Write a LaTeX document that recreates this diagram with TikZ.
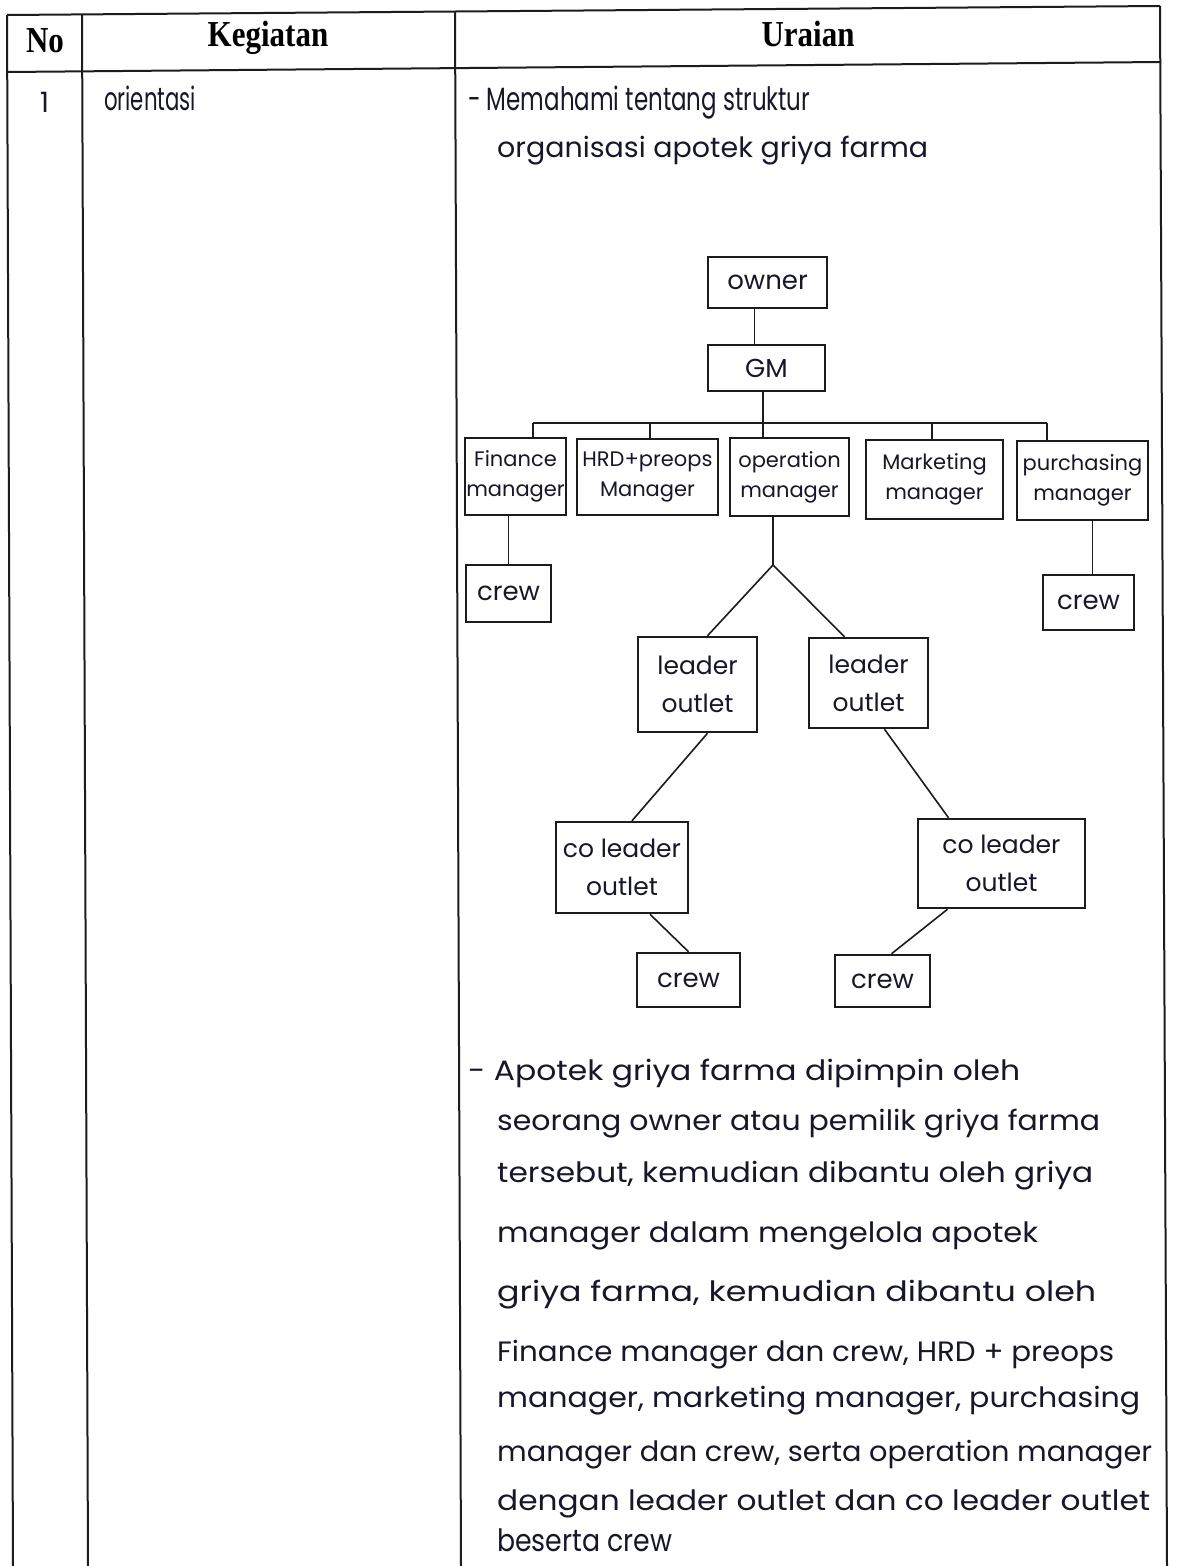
\documentclass[tikz,border=0pt]{standalone}
\usepackage{fontspec}
\setmainfont{Liberation Serif}
\newfontfamily\hand{Poppins}
\usetikzlibrary{calc}
\definecolor{ink}{HTML}{17172A}
\definecolor{rulec}{HTML}{1C1C1C}
\newcommand\fitw[2]{\resizebox{#1pt}{\height}{#2}}
\newcommand\fitwy[3]{\scalebox{1}[#2]{\resizebox{#1pt}{\height}{#3}}}
\newcommand\tallhd[1]{\scalebox{1}[1.18]{#1}}
\begin{document}
\begin{tikzpicture}[x=1pt,y=-1pt,
  box/.style={draw=rulec, line width=2.5pt, rectangle, inner sep=0pt, align=center,
    text=ink, font=\hand\fontsize{21}{30}\selectfont},
  bigbox/.style={box, font=\hand\fontsize{26}{30}\selectfont},
  lbox/.style={box, font=\hand\fontsize{25}{38}\selectfont},
  conn/.style={draw=rulec, line width=1.6pt},
  gridline/.style={draw=rulec, line width=2pt},
  hd/.style={font=\bfseries\fontsize{31}{34}\selectfont, text=black, inner sep=0pt},
  hw/.style={font=\hand\fontsize{28}{30}\selectfont, text=ink, anchor=base west, inner sep=0pt},
]
\useasboundingbox (0,0) rectangle (1176,1566);
\fill[white] (0,0) rectangle (1176,1566);

% table grid
\coordinate (tl) at (7,15);
\coordinate (tr) at (1160,6);
\coordinate (hl) at (7,72);
\coordinate (hr) at (1161,62);
\coordinate (bl) at (13,1566);
\coordinate (br) at (1167,1566);
\coordinate (c1t) at (82,14);
\coordinate (c1b) at (88,1566);
\coordinate (c2t) at (455,11);
\coordinate (c2b) at (461,1566);
\draw[gridline] (tl) -- (tr);
\draw[gridline] (hl) -- (hr);
\draw[gridline] (tl) -- (bl);
\draw[gridline] (tr) -- (br);
\draw[gridline] (c1t) -- (c1b);
\draw[gridline] (c2t) -- (c2b);

% header
\node[hd] (hno) at (45,41) {\tallhd{No}};
\node[hd] (hkeg) at (268,38) {\tallhd{Kegiatan}};
\node[hd] (hura) at (808,34) {\tallhd{Uraian}};

% row
\node[hw] (no1) at (40,112) {1};
\node[hw] (keg) at (104,110) {\fitwy{92}{1.15}{orientasi}};
\node[hw] (u1) at (468,110) {\fitwy{342}{1.15}{- Memahami tentang struktur}};
\node[hw] (u2) at (497,157) {\fitw{431}{organisasi apotek griya farma}};

% org chart boxes
\node[bigbox, minimum width=119pt, minimum height=51pt] (own) at (767.5,282.5) {owner};
\node[bigbox, minimum width=117pt, minimum height=46pt] (gm) at (766.5,368) {GM};
\node[box, minimum width=101pt, minimum height=77pt] (fin) at (515.5,476.5) {Finance\\manager};
\node[box, minimum width=141pt, minimum height=76pt] (hrd) at (647.5,477) {HRD+preops\\Manager};
\node[box, minimum width=119pt, minimum height=78pt] (ope) at (789.5,477) {operation\\manager};
\node[box, minimum width=137pt, minimum height=79pt] (mkt) at (934.5,479.5) {Marketing\\manager};
\node[box, minimum width=131pt, minimum height=79pt] (pur) at (1082.5,480.5) {purchasing\\manager};
\node[bigbox, minimum width=85pt, minimum height=57pt] (crw1) at (508.5,593.5) {crew};
\node[bigbox, minimum width=91pt, minimum height=55pt] (crw2) at (1088.5,602.5) {crew};
\node[lbox, minimum width=119pt, minimum height=95pt] (ldr1) at (697.5,684.5) {leader\\outlet};
\node[lbox, minimum width=119pt, minimum height=90pt] (ldr2) at (868.5,683) {leader\\outlet};
\node[lbox, minimum width=132pt, minimum height=91pt] (col1) at (622,867.5) {co leader\\outlet};
\node[lbox, minimum width=167pt, minimum height=89pt] (col2) at (1001.5,863.5) {co leader\\outlet};
\node[bigbox, minimum width=103pt, minimum height=54pt] (crw3) at (688.5,980) {crew};
\node[bigbox, minimum width=95pt, minimum height=52pt] (crw4) at (882.5,981) {crew};

% connectors
\draw[conn] ([xshift=-13pt]own.south) -- ([xshift=-13pt]own.south |- gm.north);
\coordinate (bus) at (763,423);
\coordinate (busL) at (533,423);
\coordinate (busR) at (1047,423);
\coordinate (tH) at (650,423);
\coordinate (tM) at (932,423);
\draw[conn] (bus |- gm.south) -- (bus);
\draw[conn] (busL) -- (busR);
\draw[conn] (busL) -- (busL |- fin.north);
\draw[conn] (tH) -- (tH |- hrd.north);
\draw[conn] (bus) -- (bus |- ope.north);
\draw[conn] (tM) -- (tM |- mkt.north);
\draw[conn] (busR) -- (busR |- pur.north);
\draw[conn] (crw1.north |- fin.south) -- (crw1.north);
\draw[conn] ([xshift=4pt]crw2.north |- pur.south) -- ([xshift=4pt]crw2.north);
\coordinate (apex) at (773,565);
\draw[conn] (apex |- ope.south) -- (apex);
\draw[conn] (apex) -- ([xshift=10pt]ldr1.north);
\draw[conn] (apex) -- ([xshift=-24pt]ldr2.north);
\draw[conn] ([xshift=10pt]ldr1.south) -- ([xshift=10pt]col1.north);
\draw[conn] ([xshift=16pt]ldr2.south) -- ([xshift=-53pt]col2.north);
\draw[conn] ([xshift=28pt]col1.south) -- (crw3.north);
\draw[conn] ([xshift=-54pt]col2.south) -- ([xshift=9pt]crw4.north);

% paragraph
\node[hw] (p1) at (468,1080) {\fitw{552}{- Apotek griya farma dipimpin oleh}};
\node[hw] (p2) at (497,1130) {\fitw{603}{seorang owner atau pemilik griya farma}};
\node[hw] (p3) at (497,1182) {\fitw{596}{tersebut, kemudian dibantu oleh griya}};
\node[hw] (p4) at (497,1242) {\fitw{541}{manager dalam mengelola apotek}};
\node[hw] (p5) at (497,1301) {\fitw{599}{griya farma, kemudian dibantu oleh}};
\node[hw] (p6) at (497,1361) {\fitw{617}{Finance manager dan crew, HRD + preops}};
\node[hw] (p7) at (497,1407) {\fitw{643}{manager, marketing manager, purchasing}};
\node[hw] (p8) at (497,1461) {\fitw{655}{manager dan crew, serta operation manager}};
\node[hw] (p9) at (497,1510) {\fitw{653}{dengan leader outlet dan co leader outlet}};
\node[hw] (p10) at (497,1551) {\fitwy{175}{1.1}{beserta crew}};
\end{tikzpicture}
\end{document}
